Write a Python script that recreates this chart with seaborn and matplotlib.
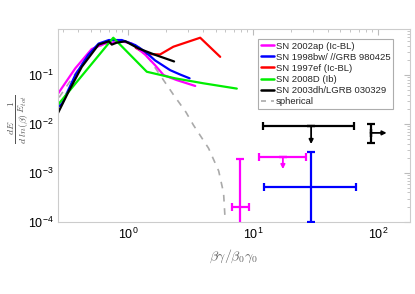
import matplotlib
matplotlib.use("Agg")
import matplotlib.pyplot as plt
import numpy as np
import pandas as pd
import seaborn as sns

# curves: beta*gamma/beta0*gamma0 vs dE/dln(beta) / E_tot
sph_x = [0.28, 0.36, 0.5, 0.65, 0.8, 1.0, 1.25, 1.5, 1.8, 2.3, 2.9, 3.33, 4.4, 5.3, 5.8, 5.97]
sph_y = [0.035, 0.09, 0.3, 0.44, 0.5, 0.48, 0.36, 0.2, 0.1, 0.04, 0.0175, 0.0095, 0.0032, 0.0011, 0.00039, 0.00011]

red_x = [1.15, 1.4, 1.8, 2.3, 3.77, 5.45]
red_y = [0.36, 0.27, 0.264, 0.38, 0.58, 0.236]

mag_x = [0.275, 0.377, 0.51, 0.65, 0.89, 1.07, 1.37, 1.64, 1.92, 2.45, 3.44]
mag_y = [0.042, 0.137, 0.34, 0.44, 0.49, 0.44, 0.26, 0.16, 0.1, 0.079, 0.06]

blue_x = [0.275, 0.295, 0.377, 0.48, 0.58, 0.70, 0.89, 1.14, 1.37, 1.64, 2.17, 2.6, 3.1]
blue_y = [0.0225, 0.026, 0.1, 0.26, 0.44, 0.52, 0.52, 0.41, 0.30, 0.2, 0.126, 0.103, 0.086]

green_x = [0.275, 0.76, 1.41, 2.37, 4.0, 7.4]
green_y = [0.025, 0.58, 0.117, 0.086, 0.068, 0.053]

black_x = [0.275, 0.295, 0.333, 0.426, 0.58, 0.70, 0.74, 0.81, 0.95, 1.21, 1.64, 2.33]
black_y = [0.017, 0.0244, 0.0457, 0.148, 0.42, 0.49, 0.42, 0.46, 0.49, 0.35, 0.26, 0.19]

labels = ["SN 2002ap (Ic-BL)", "SN 1998bw/ //GRB 980425", "SN 1997ef (Ic-BL)",
          "SN 2008D (Ib)", "SN 2003dh/LGRB 030329", "spherical"]
colors = ["#ff00ff", "#0000ff", "#ff0000", "#00ee00", "#000000", "#aaaaaa"]

# error bars: (x, y, x_lo, x_hi, y_lo, y_hi)
blk_lim = (29.1, 0.0092, 12.1, 64.6, 0.0092, 0.0092)
blk_lim_arrow_y = 0.0039
blk_right = (87.0, 0.0066, 87.0, 87.0, 0.0042, 0.010)
blk_right_arrow_x = 117.0
mag_lim = (17.3, 0.0021, 11.1, 26.5, 0.0021, 0.0021)
mag_lim_arrow_y = 0.0012
mag_low = (7.9, 0.0002, 6.8, 9.2, 0.00008, 0.00194)
blue_cross = (29.1, 0.00052, 12.3, 66.0, 0.0001, 0.0027)

sns.set_style("white")
plt.rcParams['font.family'] = ['Liberation Sans', 'DejaVu Sans']
plt.rcParams['mathtext.fontset'] = 'cm'

fig = plt.figure(figsize=(4.15, 2.94), dpi=100)
ax = fig.add_axes([0.14, 0.245, 0.848, 0.656])

curves = [(sph_x, sph_y, 5, (0, (4, 4))), (red_x, red_y, 2, "-"), (mag_x, mag_y, 0, "-"),
          (blue_x, blue_y, 1, "-"), (green_x, green_y, 3, "-"), (black_x, black_y, 4, "-")]
for xs, ys, ci, ls in curves:
    df = pd.DataFrame({"x": xs, "y": ys})
    sns.lineplot(data=df, x="x", y="y", sort=False, estimator=None, ax=ax,
                 color=colors[ci], lw=1.6 if ls == "-" else 1.2, linestyle=ls, legend=False)


def ebar(p, c):
    x, y, xlo, xhi, ylo, yhi = p
    ax.errorbar([x], [y], xerr=[[x - xlo], [xhi - x]], yerr=[[y - ylo], [yhi - y]],
                fmt="none", ecolor=c, elinewidth=1.6, capsize=2.6, capthick=1.6, zorder=5)


ebar(blk_lim, "black")
ebar(blk_right, "black")
ebar(mag_lim, colors[0])
ebar(mag_low, colors[0])
ebar(blue_cross, colors[1])

arrow = dict(arrowstyle="-|>", lw=1.3, mutation_scale=6, shrinkA=0, shrinkB=0)
ax.annotate("", xy=(blk_lim[0], blk_lim_arrow_y), xytext=(blk_lim[0], blk_lim[1]),
            arrowprops=dict(arrow, color="black"))
ax.annotate("", xy=(blk_right_arrow_x, blk_right[1]), xytext=(blk_right[0], blk_right[1]),
            arrowprops=dict(arrow, color="black"))
ax.annotate("", xy=(mag_lim[0], mag_lim_arrow_y), xytext=(mag_lim[0], mag_lim[1]),
            arrowprops=dict(arrow, color=colors[0]))

ax.set_xscale("log")
ax.set_yscale("log")
ax.set_xlim(0.275, 180)
ax.set_ylim(1e-4, 0.87)

for s in ax.spines.values():
    s.set_color("#cccccc")
    s.set_linewidth(0.8)
ax.tick_params(which="both", direction="in", top=True, right=True, colors="#bbbbbb",
               labelcolor="black", labelsize=9)
ax.tick_params(which="major", length=4)
ax.tick_params(which="minor", length=2)

ax.set_xlabel(r"$\beta\gamma/\beta_0\gamma_0$", fontsize=10, color="#666666", labelpad=4)
ax.set_ylabel(r"$\frac{dE}{d\ ln(\beta)}\frac{1}{E_{tot}}$", fontsize=10, color="#555555")
ax.yaxis.set_label_coords(-0.08, 0.53)

handles = [plt.Line2D([], [], color=colors[i], lw=1.8) for i in range(5)]
handles.append(plt.Line2D([], [], color=colors[5], lw=1.2, linestyle=(0, (3, 3))))
leg = ax.legend(handles, labels, loc="upper right", bbox_to_anchor=(0.952, 0.95), fontsize=6.8,
                frameon=True, fancybox=False, edgecolor="#999999", handlelength=1.4,
                handletextpad=0.15, borderpad=0.3, labelspacing=0.22, borderaxespad=0)
leg.get_frame().set_linewidth(0.8)

fig.savefig("out.png", dpi=100)
